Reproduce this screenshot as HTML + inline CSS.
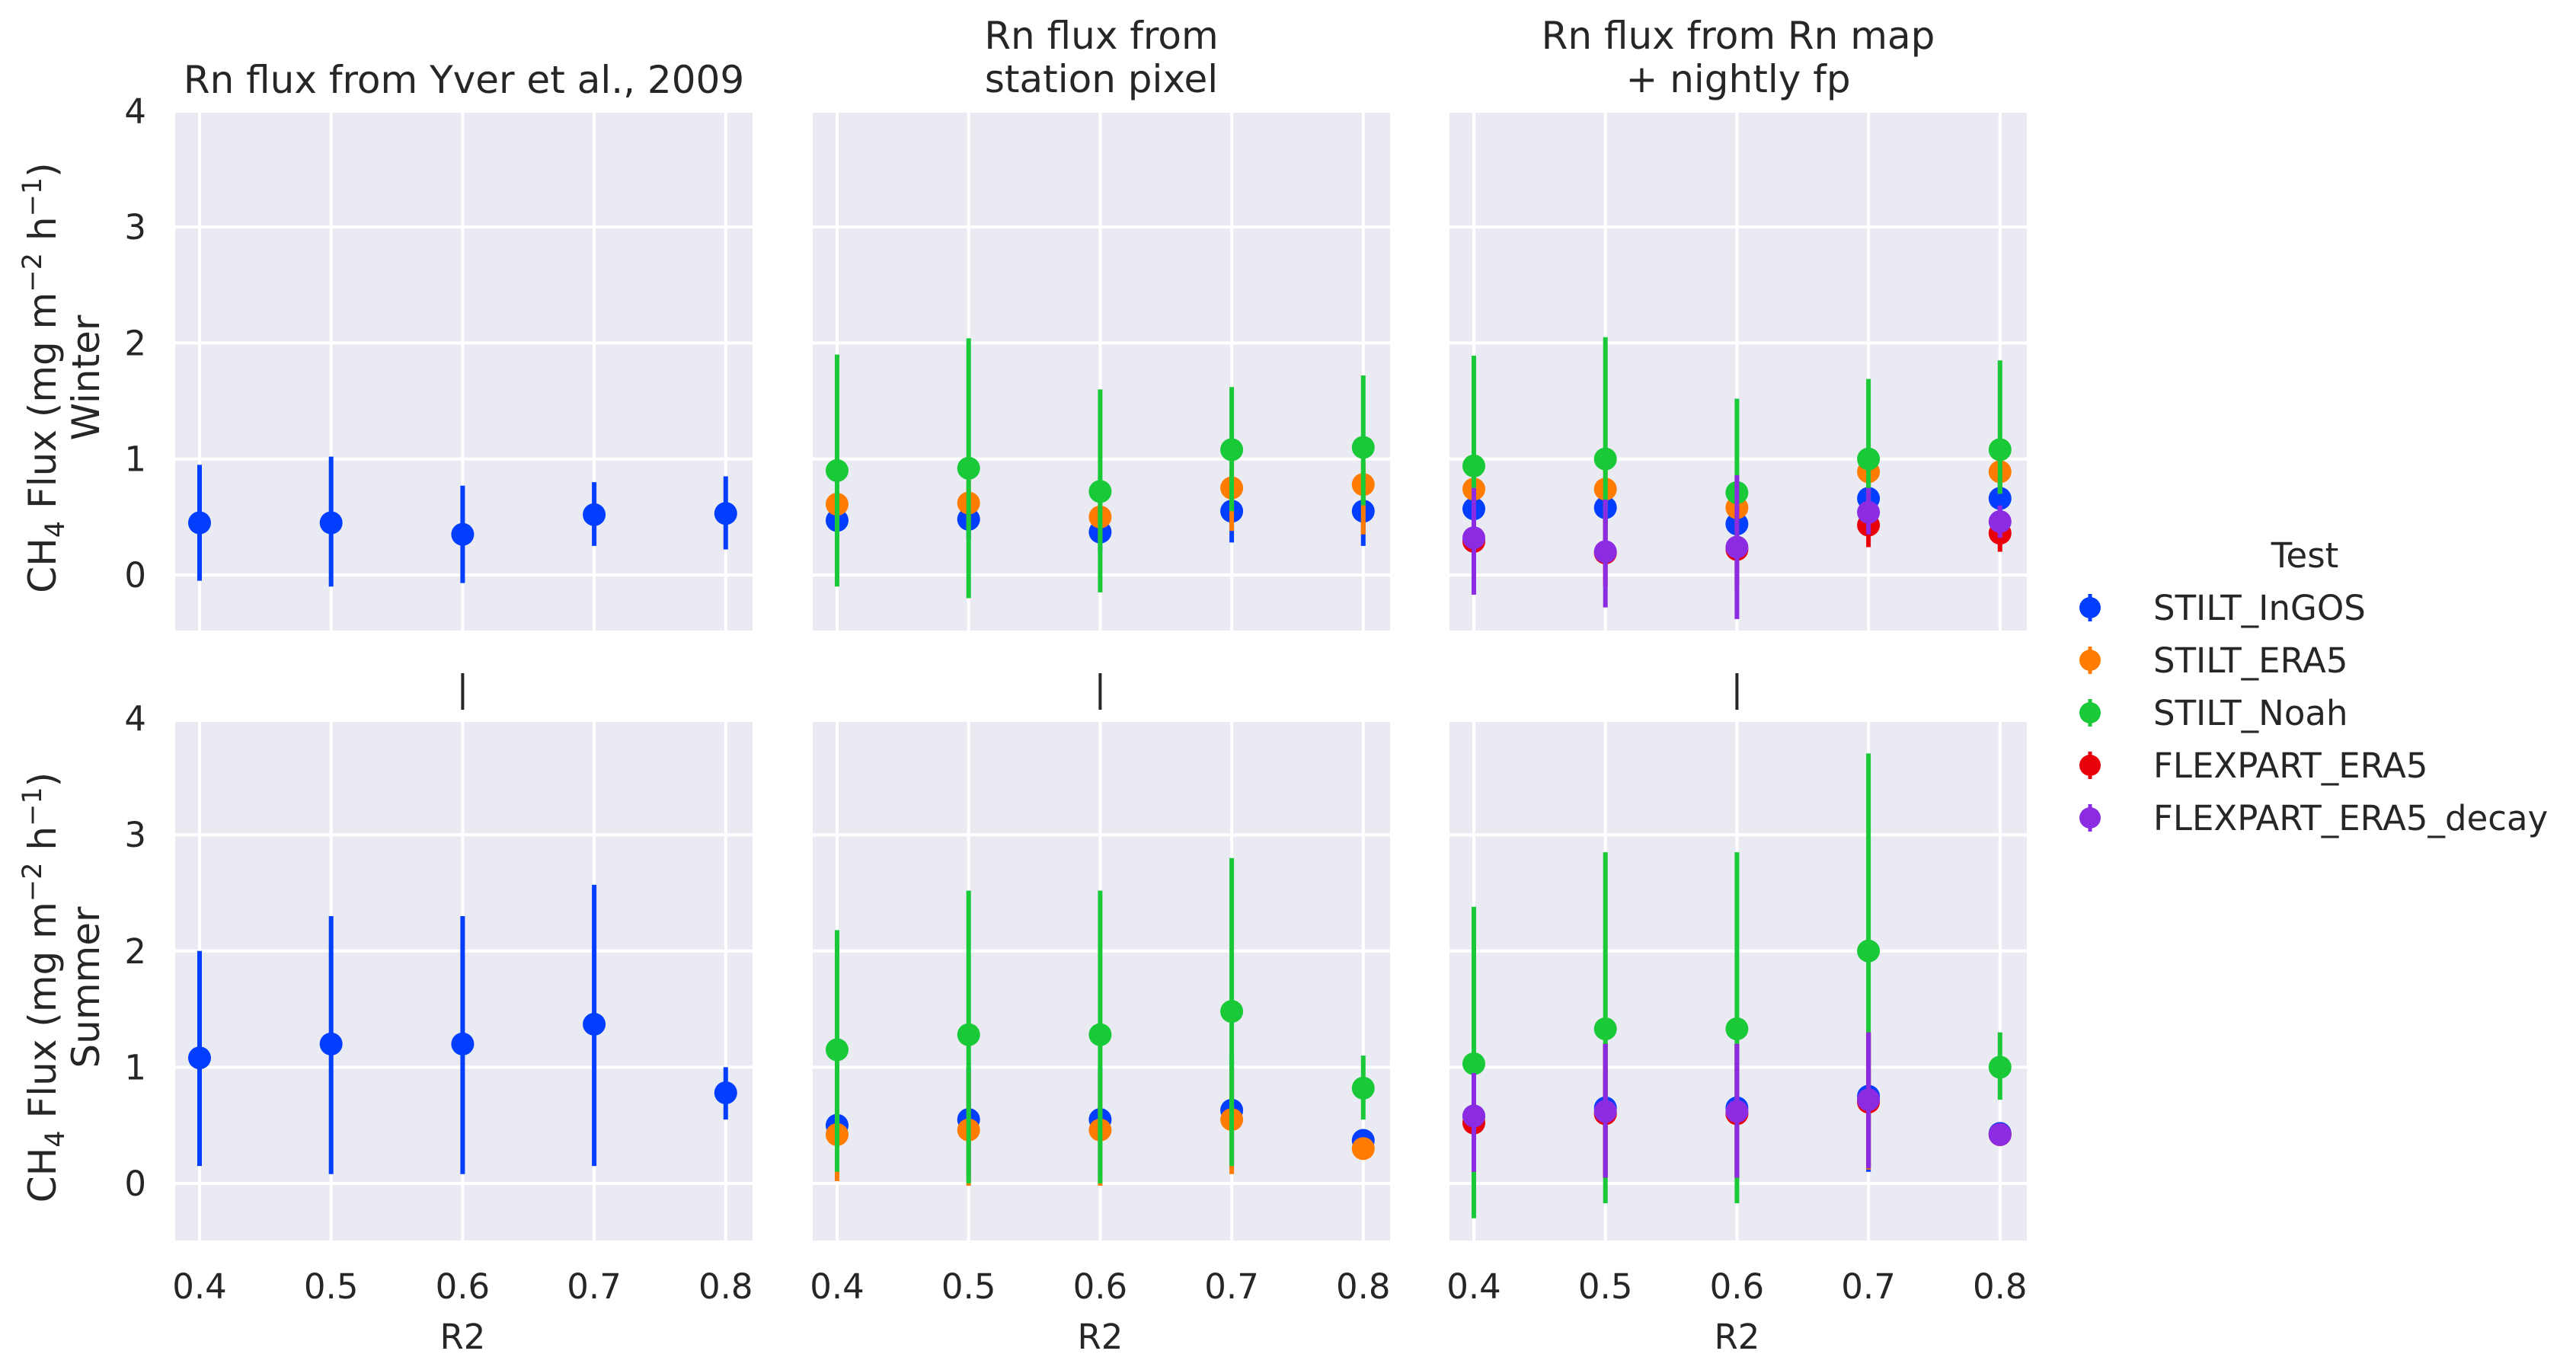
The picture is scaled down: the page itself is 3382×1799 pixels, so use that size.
<!DOCTYPE html>
<html><head><meta charset="utf-8">
<style>
html,body{margin:0;padding:0;background:#fff;}
svg{display:block;font-family:"DejaVu Sans","Liberation Sans",sans-serif;}
</style></head>
<body>
<svg id="fig" width="3382" height="1799" viewBox="0 0 3382 1799" xmlns="http://www.w3.org/2000/svg"></svg>
<script>
// ---- data ----
const categories = [0.4, 0.5, 0.6, 0.7, 0.8];
const seriesNames = ["STILT_InGOS","STILT_ERA5","STILT_Noah","FLEXPART_ERA5","FLEXPART_ERA5_decay"];
const seriesColors = ["#023eff","#ff7c00","#1ac938","#e8000b","#8b2be2"];
const yTicks = [0,1,2,3,4];
const xTickLabels = ["0.4","0.5","0.6","0.7","0.8"];
const colTitles = [["Rn flux from Yver et al., 2009"],["Rn flux from","station pixel"],["Rn flux from Rn map","+ nightly fp"]];
const rowNames = ["Winter","Summer"];
const w1_ingos_mean=[0.45,0.45,0.35,0.52,0.53], w1_ingos_lo=[-0.05,-0.1,-0.07,0.25,0.22], w1_ingos_hi=[0.95,1.02,0.77,0.8,0.85];
const s1_ingos_mean=[1.08,1.2,1.2,1.37,0.78], s1_ingos_lo=[0.15,0.08,0.08,0.15,0.55], s1_ingos_hi=[2.0,2.3,2.3,2.57,1.0];

const w2_ingos_mean=[0.47,0.48,0.37,0.55,0.55], w2_ingos_lo=[0.3,0.3,0.2,0.28,0.25], w2_ingos_hi=[0.65,0.66,0.55,0.8,0.8];
const w2_era5_mean=[0.61,0.62,0.5,0.75,0.78], w2_era5_lo=[0.4,0.4,0.3,0.38,0.35], w2_era5_hi=[0.8,0.82,0.7,0.95,0.98];
const w2_noah_mean=[0.9,0.92,0.72,1.08,1.1], w2_noah_lo=[-0.1,-0.2,-0.15,0.55,0.6], w2_noah_hi=[1.9,2.04,1.6,1.62,1.72];

const w3_ingos_mean=[0.57,0.58,0.44,0.66,0.66], w3_ingos_lo=[0.4,0.4,0.3,0.5,0.5], w3_ingos_hi=[0.75,0.75,0.6,0.8,0.8];
const w3_era5_mean=[0.74,0.74,0.58,0.89,0.89], w3_era5_lo=[0.55,0.55,0.45,0.7,0.7], w3_era5_hi=[0.9,0.9,0.75,1.05,1.05];
const w3_noah_mean=[0.94,1.0,0.71,1.0,1.08], w3_noah_lo=[0.3,0.2,0.1,0.6,0.7], w3_noah_hi=[1.89,2.05,1.52,1.69,1.85];
const w3_flex_mean=[0.29,0.19,0.22,0.43,0.36], w3_flex_lo=[0.1,-0.1,-0.1,0.24,0.2], w3_flex_hi=[0.5,0.5,0.6,0.6,0.5];
const w3_decay_mean=[0.32,0.2,0.24,0.54,0.46], w3_decay_lo=[-0.17,-0.28,-0.38,0.35,0.32], w3_decay_hi=[0.75,0.65,0.86,0.75,0.6];

const s2_ingos_mean=[0.5,0.55,0.55,0.63,0.37], s2_ingos_lo=[0.1,0.05,0.05,0.12,0.25], s2_ingos_hi=[0.9,1.0,1.0,1.1,0.45];
const s2_era5_mean=[0.42,0.46,0.46,0.55,0.3], s2_era5_lo=[0.02,-0.02,-0.02,0.08,0.22], s2_era5_hi=[0.85,0.95,0.95,1.0,0.38];
const s2_noah_mean=[1.15,1.28,1.28,1.48,0.82], s2_noah_lo=[0.1,0.0,0.0,0.15,0.55], s2_noah_hi=[2.18,2.52,2.52,2.8,1.1];

const s3_ingos_mean=[0.58,0.65,0.65,0.75,0.43], s3_ingos_lo=[0.1,0.05,0.05,0.1,0.33], s3_ingos_hi=[0.95,1.2,1.2,1.3,0.5];
const s3_era5_mean=[0.53,0.6,0.6,0.7,0.42], s3_era5_lo=[0.1,0.05,0.05,0.12,0.33], s3_era5_hi=[0.95,1.2,1.2,1.3,0.5];
const s3_noah_mean=[1.03,1.33,1.33,2.0,1.0], s3_noah_lo=[-0.3,-0.17,-0.17,0.5,0.72], s3_noah_hi=[2.38,2.85,2.85,3.7,1.3];
const s3_flex_mean=[0.52,0.6,0.6,0.7,0.42], s3_flex_lo=[0.1,0.05,0.05,0.13,0.35], s3_flex_hi=[0.95,1.2,1.2,1.3,0.5];
const s3_decay_mean=[0.58,0.62,0.62,0.72,0.42], s3_decay_lo=[0.1,0.05,0.05,0.13,0.35], s3_decay_hi=[0.95,1.2,1.2,1.3,0.5];

const panels = [
 [ [[w1_ingos_mean,w1_ingos_lo,w1_ingos_hi],null,null,null,null],
   [[w2_ingos_mean,w2_ingos_lo,w2_ingos_hi],[w2_era5_mean,w2_era5_lo,w2_era5_hi],[w2_noah_mean,w2_noah_lo,w2_noah_hi],null,null],
   [[w3_ingos_mean,w3_ingos_lo,w3_ingos_hi],[w3_era5_mean,w3_era5_lo,w3_era5_hi],[w3_noah_mean,w3_noah_lo,w3_noah_hi],[w3_flex_mean,w3_flex_lo,w3_flex_hi],[w3_decay_mean,w3_decay_lo,w3_decay_hi]] ],
 [ [[s1_ingos_mean,s1_ingos_lo,s1_ingos_hi],null,null,null,null],
   [[s2_ingos_mean,s2_ingos_lo,s2_ingos_hi],[s2_era5_mean,s2_era5_lo,s2_era5_hi],[s2_noah_mean,s2_noah_lo,s2_noah_hi],null,null],
   [[s3_ingos_mean,s3_ingos_lo,s3_ingos_hi],[s3_era5_mean,s3_era5_lo,s3_era5_hi],[s3_noah_mean,s3_noah_lo,s3_noah_hi],[s3_flex_mean,s3_flex_lo,s3_flex_hi],[s3_decay_mean,s3_decay_lo,s3_decay_hi]] ]
];

// ---- layout ----
const NS="http://www.w3.org/2000/svg";
const svg=document.getElementById('fig');
const colLeft=[230,1067,1903], axW=758;
const rowTop=[148,948], axH=[680,681];
const rowZero=[755,1554], unit=[152.3,152.6];
const xFirst=32, xStep=172.7;
const TXT="#262626", FS=45, TFS=50;
function el(tag,attrs,parent){const e=document.createElementNS(NS,tag);for(const k in attrs)e.setAttribute(k,attrs[k]);(parent||svg).appendChild(e);return e;}
function xScale(c,i){return colLeft[c]+xFirst+i*xStep;}
function yScale(r,v){return rowZero[r]-v*unit[r];}

for(let r=0;r<2;r++){
 for(let c=0;c<3;c++){
  const g=el('g',{});
  
  
  const bg=el('rect',{x:colLeft[c],y:rowTop[r],width:axW,height:axH[r],fill:'#eaeaf2'},g);
  
  
  yTicks.forEach(t=>{const y=yScale(r,t);if(y<rowTop[r]+1)return;
   const l=el('line',{x1:colLeft[c],x2:colLeft[c]+axW,y1:y,y2:y,stroke:'#fff','stroke-width':4},g);
   
   });
  categories.forEach((v,i)=>{const x=xScale(c,i);
   const l=el('line',{x1:x,x2:x,y1:rowTop[r],y2:rowTop[r]+axH[r],stroke:'#fff','stroke-width':4},g);
   
   });
  const ser=panels[r][c];
  ser.forEach((s,si)=>{ if(!s) return;
   const [m,lo,hi]=s;
   categories.forEach((v,i)=>{const x=xScale(c,i);
    const eb=el('line',{x1:x,x2:x,y1:yScale(r,lo[i]),y2:yScale(r,hi[i]),stroke:seriesColors[si],'stroke-width':6},g);
    
    
    const p=el('circle',{cx:x,cy:yScale(r,m[i]),r:15,fill:seriesColors[si]},g);
    
    });
  });
  if(c===0){
   yTicks.forEach(t=>{const tx=el('text',{x:192,y:yScale(r,t)+16,'text-anchor':'end','font-size':FS,fill:TXT});tx.textContent=t;
    
    });
   const cy=rowTop[r]+axH[r]/2+8;
   const yl=el('text',{transform:`translate(73,${cy}) rotate(-90)`,'text-anchor':'middle','font-size':TFS,fill:TXT});
   yl.innerHTML='CH<tspan font-size="35" dy="11">4</tspan><tspan dy="-11"> Flux (mg m</tspan><tspan font-size="35" dy="-19">−2</tspan><tspan dy="19"> h</tspan><tspan font-size="35" dy="-19">−1</tspan><tspan dy="19">)</tspan>';
   
   
   const rl=el('text',{transform:`translate(130,${cy}) rotate(-90)`,'text-anchor':'middle','font-size':TFS,fill:TXT});
   rl.textContent=rowNames[r];
   
   
  }
  if(r===1){
   categories.forEach((v,i)=>{const tx=el('text',{x:xScale(c,i),y:1705,'text-anchor':'middle','font-size':FS,fill:TXT});tx.textContent=xTickLabels[i];
    
    });
   const xl=el('text',{x:xScale(c,2),y:1771,'text-anchor':'middle','font-size':FS,fill:TXT});xl.textContent='R2';
   
   
  } else {
   const bar=el('line',{x1:xScale(c,2),x2:xScale(c,2),y1:884,y2:932,stroke:TXT,'stroke-width':4});
   
   
   const lines=colTitles[c];
   lines.forEach((ln,k)=>{const ty=lines.length===1?122:64+k*57;
    const t=el('text',{x:colLeft[c]+axW/2,y:ty,'text-anchor':'middle','font-size':TFS,fill:TXT});t.textContent=ln;
    
    });
  }
 }
}
// legend
const lt=el('text',{x:3026,y:745,'text-anchor':'middle','font-size':FS,fill:TXT});lt.textContent='Test';


seriesNames.forEach((n,i)=>{const y=798+i*69;
 const g=el('g',{});
 
 
 el('line',{x1:2744,x2:2744,y1:y-18,y2:y+18,stroke:seriesColors[i],'stroke-width':5},g);
 el('circle',{cx:2744,cy:y,r:14,fill:seriesColors[i]},g);
 const t=el('text',{x:2827,y:y+16,'font-size':FS,fill:TXT},g);t.textContent=n;});
</script>
</body></html>
